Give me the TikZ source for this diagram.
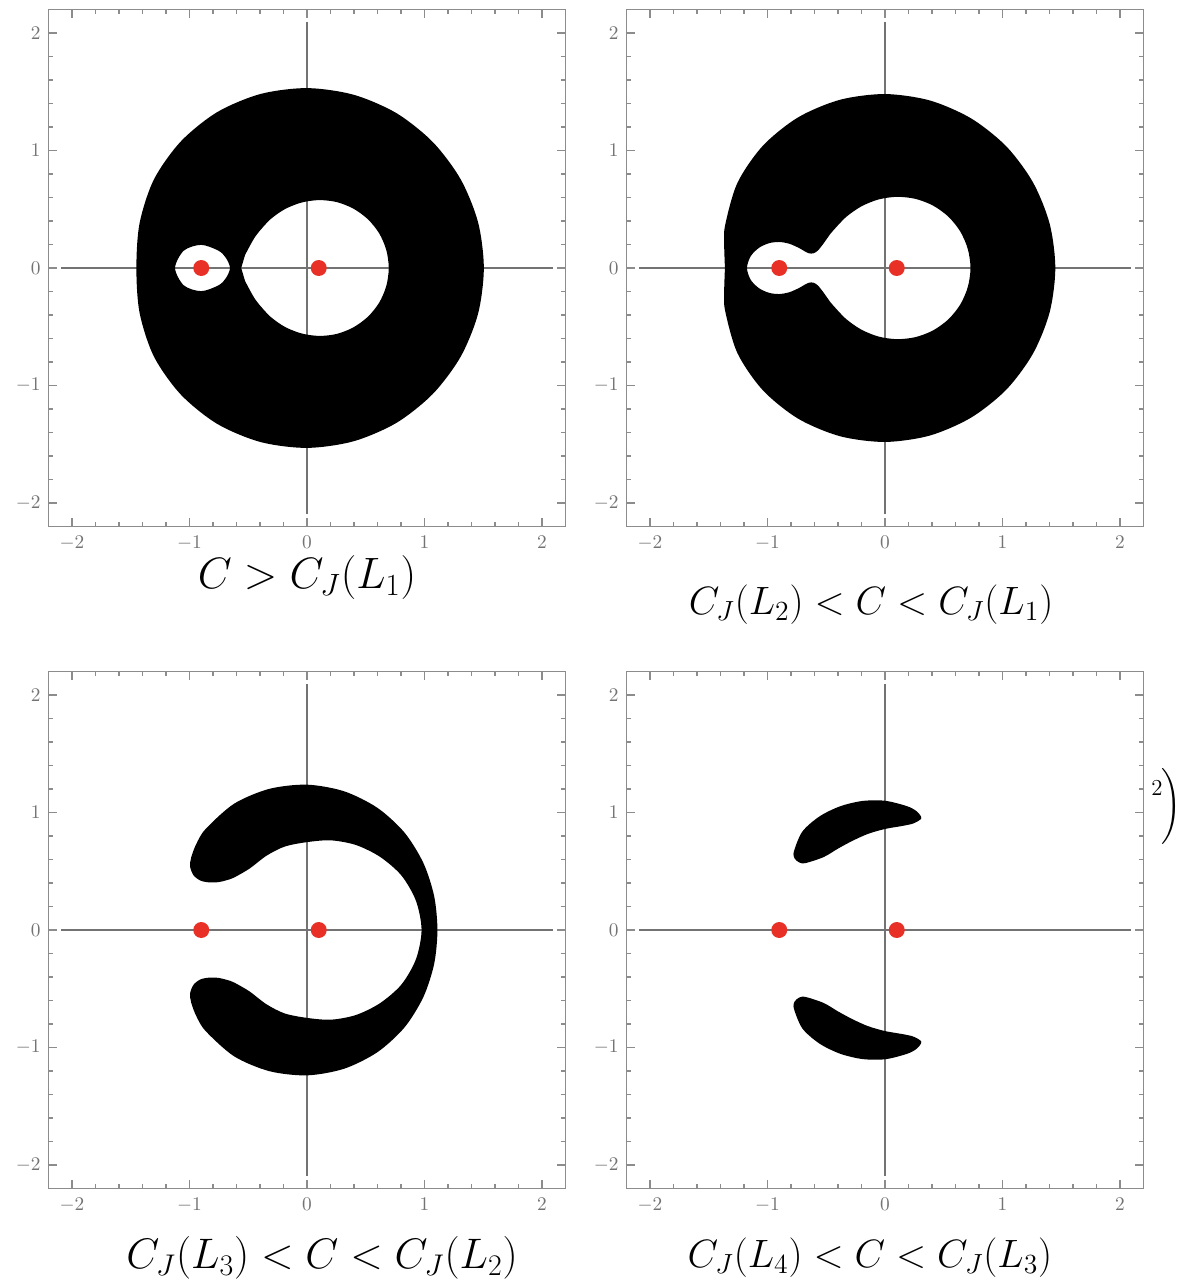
\RequirePackage{fix-cm}
\documentclass[tikz,border=0pt]{standalone}
\usepackage{exscale}
\definecolor{dotred}{RGB}{232,48,38}

\tikzset{
  plotframe/.style={draw=black!45, line width=0.9pt},
  tickmark/.style={draw=black!45, line width=0.6pt},
  axisline/.style={draw=black!55, line width=1pt},
  forbidden/.style={fill=black, even odd rule},
  primary/.style={fill=dotred},
  ticklabel/.style={font=\fontsize{11}{12}\selectfont, text=black!55, inner sep=1pt},
  panel/.style={x=2.35cm, y=2.35cm}
}

% frame, ticks and axes of one plot
\newcommand{\plotbox}{%
  \draw[plotframe] (-2.2,-2.2) rectangle (2.2,2.2);
  \foreach \tk in {-2,...,2} {
    \draw[tickmark] (\tk,-2.2) -- ++(0,0.07) (\tk,2.2) -- ++(0,-0.07)
      (-2.2,\tk) -- ++(0.07,0) (2.2,\tk) -- ++(-0.07,0);
    \node[ticklabel, anchor=east] (yl\tk) at (-2.25,\tk) {$\tk$};
    \node[ticklabel, anchor=north] (xl\tk) at (\tk,-2.26) {$\tk$};
  }
  \foreach \mk in {-11,...,11} {
    \draw[tickmark] ({\mk/5},-2.2) -- ++(0,0.035) ({\mk/5},2.2) -- ++(0,-0.035)
      (-2.2,{\mk/5}) -- ++(0.035,0) (2.2,{\mk/5}) -- ++(-0.035,0);
  }
  \draw[axisline] (-2.09,0) -- (2.09,0);
  \draw[axisline] (0,-2.09) -- (0,2.09);
  \coordinate (small) at (-0.9,0);
  \coordinate (big) at (0.1,0);
}
% the two primaries
\newcommand{\primaries}{%
  \fill[primary] (small) circle (0.068);
  \fill[primary] (big) circle (0.068);
}

\begin{document}
\begin{tikzpicture}
\fill[white] (0,0) rectangle (23.62,-25.66);
\useasboundingbox (0,0) rectangle (23.62,-25.66);

% C > C_J(L1)
\begin{scope}[shift={(6.14cm,-5.36cm)}, panel]
\plotbox
\fill[forbidden]
  plot[smooth cycle] coordinates {(0:1.505) (15:1.507) (30:1.51) (45:1.515)
    (60:1.522) (75:1.527) (90:1.531) (105:1.533) (120:1.531) (135:1.521)
    (150:1.505) (165:1.475) (180:1.452) (195:1.475) (210:1.505) (225:1.521)
    (240:1.531) (255:1.533) (270:1.531) (285:1.527) (300:1.522) (315:1.515)
    (330:1.51) (345:1.507)}
  (-0.56,0) -- plot[smooth] coordinates {(-0.5273,0.1106) (-0.4617,0.2327)
    (-0.417,0.2985) (-0.313,0.413) (-0.189,0.5006) (-0.0491,0.5564) (0.1,0.578)
    (0.2505,0.5617) (0.3925,0.5066) (0.5165,0.4165) (0.6135,0.2965)
    (0.6747,0.154) (0.696,0) (0.6747,-0.154) (0.6135,-0.2965) (0.5165,-0.4165)
    (0.3925,-0.5066) (0.2505,-0.5617) (0.1,-0.578) (-0.0491,-0.5564)
    (-0.189,-0.5006) (-0.313,-0.413) (-0.417,-0.2985) (-0.4617,-0.2327)
    (-0.5273,-0.1106)} -- cycle
  plot[smooth cycle] coordinates {(-0.655,0) (-0.6906,0.0868) (-0.7529,0.1471)
    (-0.9,0.197) (-1.0481,0.1481) (-1.123,0) (-1.0481,-0.1481) (-0.9,-0.197)
    (-0.7529,-0.1471) (-0.6906,-0.0868)};
\primaries
\node[font=\fontsize{25}{30}\selectfont] (cap1) at (0,-2.638) {$C>C_J(L_1)$};
\end{scope}

% C_J(L2) < C < C_J(L1)
\begin{scope}[shift={(17.70cm,-5.36cm)}, panel]
\plotbox
\fill[forbidden]
  plot[smooth cycle] coordinates {(0:1.4495) (15:1.451) (30:1.455) (45:1.462)
    (60:1.469) (75:1.476) (90:1.4804) (105:1.482) (120:1.48) (135:1.4707)
    (150:1.45) (165:1.4086) (172:1.382) (180:1.3632) (188:1.382) (195:1.4086)
    (210:1.45) (225:1.4707) (240:1.48) (255:1.482) (270:1.4804) (285:1.476)
    (300:1.469) (315:1.462) (330:1.455) (345:1.451)}
  plot[smooth cycle] coordinates {(0.7277,0) (0.7047,0.162) (0.640,0.3118)
    (0.5381,0.4381) (0.4072,0.5321) (0.2578,0.5888) (0.1,0.6056)
    (-0.0562,0.5831) (-0.2025,0.5239) (-0.3327,0.4327) (-0.4447,0.3145)
    (-0.48,0.27) (-0.52,0.213) (-0.57,0.150) (-0.609,0.1245) (-0.65,0.126)
    (-0.69,0.146) (-0.7303,0.1697) (-0.8145,0.2065) (-0.9,0.2214)
    (-0.9874,0.2111) (-1.0721,0.1721) (-1.143,0.1007) (-1.175,0)
    (-1.143,-0.1007) (-1.0721,-0.1721) (-0.9874,-0.2111) (-0.9,-0.2214)
    (-0.8145,-0.2065) (-0.7303,-0.1697) (-0.69,-0.146) (-0.65,-0.126)
    (-0.609,-0.1245) (-0.57,-0.150) (-0.52,-0.213) (-0.48,-0.27)
    (-0.4447,-0.3145) (-0.3327,-0.4327) (-0.2025,-0.5239) (-0.0562,-0.5831)
    (0.1,-0.6056) (0.2578,-0.5888) (0.4072,-0.5321) (0.5381,-0.4381)
    (0.640,-0.3118) (0.7047,-0.162)};
\primaries
\node[font=\fontsize{22.5}{27}\selectfont] (cap2) at (-0.119,-2.868) {$C_J(L_2)<C<C_J(L_1)$};
\end{scope}

% C_J(L3) < C < C_J(L2)
\begin{scope}[shift={(6.14cm,-18.60cm)}, panel]
\plotbox
\fill[forbidden]
  plot[smooth cycle] coordinates {(-0.75,0.408) (-0.83,0.405) (-0.905,0.42)
    (-0.965,0.465) (-0.995,0.54) (-0.985,0.62) (-0.9409,0.7351)
    (-0.8613,0.8613) (-0.6205,1.0747) (-0.3218,1.201) (0,1.237)
    (0.3163,1.1804) (0.6,1.0392) (0.8294,0.8294) (0.9899,0.5715)
    (1.0818,0.2899) (1.11,0) (1.0818,-0.2899) (0.9899,-0.5715)
    (0.8294,-0.8294) (0.6,-1.0392) (0.3163,-1.1804) (0,-1.237)
    (-0.3218,-1.201) (-0.6205,-1.0747) (-0.8613,-0.8613) (-0.9409,-0.7351)
    (-0.985,-0.62) (-0.995,-0.54) (-0.965,-0.465) (-0.905,-0.42)
    (-0.83,-0.405) (-0.75,-0.408) (-0.68,-0.425) (-0.62,-0.447)
    (-0.49,-0.522) (-0.345,-0.632) (-0.19,-0.71) (0,-0.748) (0.2045,-0.7631)
    (0.4175,-0.7231) (0.6223,-0.6223) (0.8037,-0.464) (0.9273,-0.2485)
    (0.975,0) (0.9273,0.2485) (0.8037,0.464) (0.6223,0.6223) (0.4175,0.7231)
    (0.2045,0.7631) (0,0.748) (-0.19,0.71) (-0.345,0.632) (-0.49,0.522)
    (-0.62,0.447) (-0.68,0.425)};
\primaries
\node[font=\fontsize{24.3}{29}\selectfont] (cap3) at (0.128,-2.791) {$C_J(L_3)<C<C_J(L_2)$};
\end{scope}

% C_J(L4) < C < C_J(L3)
\begin{scope}[shift={(17.70cm,-18.60cm)}, panel]
\plotbox
\foreach \s in {1,-1}
  \fill[forbidden, yscale=\s]
    plot[smooth cycle] coordinates {(0.309,0.951) (0.2705,1.0094)
      (0.1859,1.0543) (0,1.10) (-0.1936,1.098) (-0.383,1.0525) (-0.558,0.9665)
      (-0.7032,0.838) (-0.775,0.67) (-0.77,0.61) (-0.73,0.575) (-0.675,0.57)
      (-0.5213,0.6212) (-0.4,0.6928) (-0.2763,0.7593) (-0.1443,0.8184)
      (0,0.86) (0.1564,0.8873) (0.2433,0.908)};
\primaries
\node[font=\fontsize{22.5}{27}\selectfont] (cap4) at (-0.128,-2.791) {$C_J(L_4)<C<C_J(L_3)$};
\end{scope}

% cut-off formula at the right edge
\node[font=\fontsize{13}{15}\selectfont, inner sep=0pt] (sup) at (23.14,-15.76) {2};
\node[font=\fontsize{14.5}{17}\selectfont, inner sep=0pt] (paren) at (23.44,-16.12) {$\Bigg)$};
\end{tikzpicture}
\end{document}
